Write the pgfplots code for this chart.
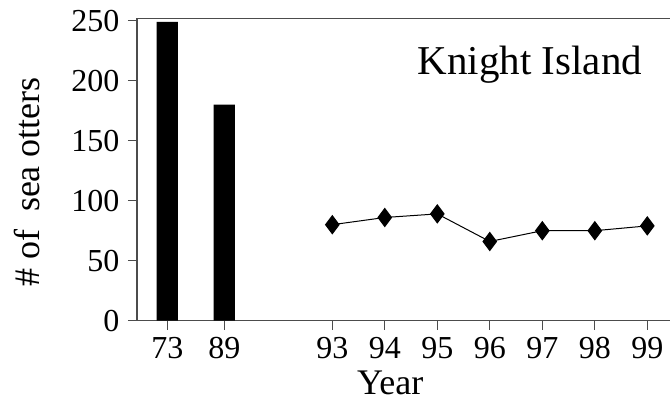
\documentclass[border=0pt]{standalone}
\usepackage{fontspec}
\setmainfont{Liberation Serif}
\usepackage{pgfplots}
\pgfplotsset{compat=1.18}

\begin{document}
\begin{tikzpicture}
\begin{axis}[name=ax,
  scale only axis, width=266.5pt, height=151.2pt,
  xmin=137, xmax=670, ymin=0, ymax=252,
  axis lines*=left,
  axis line style={-, draw=black!70, line width=0.6pt},
  after end axis/.code={\draw[black!70, line width=0.6pt] (rel axis cs:0,1) -- (rel axis cs:1,1);},
  xtick={167.3,224.3,332.3,384.8,437.3,489.8,542.3,594.8,647.3},
  xticklabels={73,89,93,94,95,96,97,98,99},
  ytick={0,50,...,250},
  tick align=outside, major tick length=4.5pt,
  tick style={black!70, line width=0.6pt},
  ticklabel style={font=\fontsize{16}{18}\selectfont},
  /pgf/number format/assume math mode=true,
  xticklabel style={text height=11pt, text depth=0pt},
  yticklabel style={xshift=-0.8pt},
  xlabel={Year}, ylabel={\# of\ \ sea otters},
  label style={font=\fontsize{18}{21}\selectfont},
  xlabel style={at={(axis description cs:0.475,-0.2457)}, anchor=base},
  ylabel style={at={(axis description cs:-0.182,0.4587)}, anchor=base},
]
% bars: 1973 and 1989 surveys
\addplot[ybar, bar width=10.7pt, fill=black, draw=none]
  coordinates {(167.3,249) (224.3,180)};
% 1993-1999 surveys
\addplot[black, line width=0.5pt, mark=diamond*, mark size=4.5pt]
  coordinates {(332.3,80) (384.8,86) (437.3,89) (489.8,66) (542.3,75) (594.8,75) (647.3,79)};
\node[anchor=base west, inner sep=0, font=\fontsize{20.5}{24}\selectfont]
  at (axis cs:417.3,204.75) {Knight Island};
\end{axis}
\pgfresetboundingbox
\path (ax.south west) ++(-68.5pt,-39.65pt) rectangle ++(335.5pt,200pt);
\end{tikzpicture}
\end{document}
